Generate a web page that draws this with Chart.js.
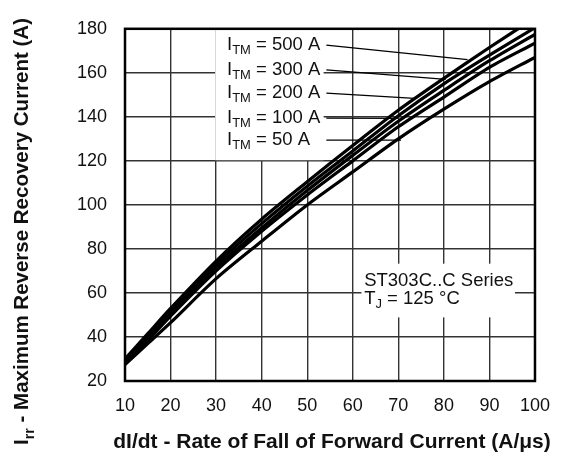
<!DOCTYPE html>
<html>
<head>
<meta charset="utf-8">
<script src="https://cdn.jsdelivr.net/npm/chart.js@4.4.1/dist/chart.umd.min.js"></script>
<style>
  html, body { margin: 0; padding: 0; background: #fff; }
  #wrap { width: 564px; height: 459px; position: relative; }
</style>
</head>
<body>
<div id="wrap"><canvas id="irrChart"></canvas></div>
<script>
// values
var dIdt = [10, 15, 20, 30, 40, 50, 60, 70, 80, 90, 100];
var irr500 = [30, 41.5, 53, 74.5, 93.5, 110.5, 127, 143, 157.5, 171.5, 185];
var irr300 = [29.5, 40.5, 52, 73, 91.5, 108.5, 124.5, 140.5, 155, 168, 180.5];
var irr200 = [29, 39.5, 50.5, 71.5, 89.5, 106.5, 122.5, 138, 152, 165.5, 177.5];
var irr100 = [28.5, 38.5, 49.5, 70, 88, 104.5, 120, 135.5, 149, 162.5, 173.5];
var irr50 = [27.5, 37, 46.5, 66.5, 83.5, 100, 115, 130, 143.5, 156, 167];
var currents = ["500", "300", "200", "100", "50"];

var xTicks = [10, 20, 30, 40, 50, 60, 70, 80, 90, 100];
var yTicks = [20, 40, 60, 80, 100, 120, 140, 160, 180];

// annotation placement (data units)
var labelX = 32.4;
var labelY = [172.6, 161.3, 150.8, 139.4, 129.4];
var leaderStartX = 54.2;
var leaderEnd = [[85.2, 166], [80.4, 157], [73.6, 148.4], [69.9, 139.3], [70.6, 129.4]];
var labelBox = [29.8, 180, 53.6, 120.3];
var seriesBox = [61.9, 73.3, 95.6, 48.9];
var seriesText = "ST303C..C Series";
var tjText = " = 125 °C";

var FONT = "'Liberation Sans', Arial, Helvetica, sans-serif";
var context = document.querySelector("#irrChart");

// write text with subscripts, parts = [[text, isSub], ...]
function drawParts(ctx, parts, x, y, size, bold) {
  var w = bold ? "bold " : "";
  parts.forEach(function (p) {
    var s = p[1] ? size * 0.7 : size;
    ctx.font = w + s + "px " + FONT;
    ctx.fillText(p[0], x, p[1] ? y + size * 0.3 : y);
    x += ctx.measureText(p[0]).width;
  });
  return x;
}

function box(ctx, x, y, b) {
  var l = x.getPixelForValue(b[0]), t = y.getPixelForValue(b[1]);
  var r = x.getPixelForValue(b[2]), bt = y.getPixelForValue(b[3]);
  ctx.fillRect(l, t, r - l, bt - t);
}

var overlay = {
  id: "overlay",
  beforeDatasetsDraw: function (chart) {
    var ctx = chart.ctx, x = chart.scales.x, y = chart.scales.y;
    ctx.save();
    ctx.fillStyle = "#fff";
    box(ctx, x, y, labelBox);
    box(ctx, x, y, seriesBox);

    // leader lines
    ctx.strokeStyle = "#000";
    ctx.lineWidth = 1.2;
    for (var i = 0; i < currents.length; i++) {
      ctx.beginPath();
      ctx.moveTo(x.getPixelForValue(leaderStartX), y.getPixelForValue(labelY[i]));
      ctx.lineTo(x.getPixelForValue(leaderEnd[i][0]), y.getPixelForValue(leaderEnd[i][1]));
      ctx.stroke();
    }

    ctx.fillStyle = "#111";
    ctx.textAlign = "left";
    ctx.textBaseline = "middle";
    for (var j = 0; j < currents.length; j++) {
      drawParts(ctx, [["I", false], ["TM", true], [" = " + currents[j] + " A", false]],
        x.getPixelForValue(labelX), y.getPixelForValue(labelY[j]), 18.5, false);
    }
    drawParts(ctx, [[seriesText, false]], x.getPixelForValue(62.5), y.getPixelForValue(65.6), 18.5, false);
    drawParts(ctx, [["T", false], ["J", true], [tjText, false]], x.getPixelForValue(62.5), y.getPixelForValue(57.4), 18.5, false);
    ctx.restore();
  },
  afterDatasetsDraw: function (chart) {
    var ctx = chart.ctx, a = chart.chartArea;
    ctx.save();
    ctx.strokeStyle = "#000";
    ctx.lineWidth = 2.5;
    ctx.strokeRect(a.left, a.top, a.right - a.left, a.bottom - a.top);
    ctx.restore();
  },
  afterDraw: function (chart) {
    var ctx = chart.ctx;
    ctx.save();
    ctx.fillStyle = "#111";
    ctx.textBaseline = "alphabetic";
    // x title
    ctx.font = "bold 21px " + FONT;
    ctx.textAlign = "center";
    ctx.fillText("dI/dt - Rate of Fall of Forward Current (A/μs)", 332, 448);
    // y title, rotated
    ctx.textAlign = "left";
    ctx.translate(28, 445);
    ctx.rotate(-Math.PI / 2);
    drawParts(ctx, [["I", false], ["rr", true], [" - Maximum Reverse Recovery Current (A)", false]], 0, 0, 20.5, true);
    ctx.restore();
  }
};

function lineSet(values) {
  return {
    data: values.map(function (v, i) { return { x: dIdt[i], y: v }; }),
    borderColor: "#000",
    borderWidth: 3.2,
    pointRadius: 0,
    fill: false,
    tension: 0.3
  };
}

var irr_chart = new Chart(context, {
  type: "line",
  data: {
    datasets: [lineSet(irr500), lineSet(irr300), lineSet(irr200), lineSet(irr100), lineSet(irr50)]
  },
  options: {
    responsive: true,
    maintainAspectRatio: false,
    animation: false,
    layout: { padding: { top: 27, right: 26, left: 0, bottom: 0 } },
    plugins: { legend: { display: false }, tooltip: { enabled: false } },
    scales: {
      x: {
        type: "linear",
        min: 10,
        max: 100,
        afterBuildTicks: function (s) { s.ticks = xTicks.map(function (v) { return { value: v }; }); },
        afterFit: function (s) { s.height = 78; },
        grid: { color: "#333", lineWidth: 1.4, drawTicks: false },
        border: { display: false },
        ticks: { color: "#111", padding: 14, maxRotation: 0, font: { family: FONT, size: 18 } }
      },
      y: {
        min: 20,
        max: 180,
        afterBuildTicks: function (s) { s.ticks = yTicks.map(function (v) { return { value: v }; }); },
        afterFit: function (s) { s.width = 125; },
        grid: { color: "#333", lineWidth: 1.4, drawTicks: false },
        border: { display: false },
        ticks: { color: "#111", padding: 18, font: { family: FONT, size: 18 } }
      }
    }
  },
  plugins: [overlay]
});
</script>
</body>
</html>
